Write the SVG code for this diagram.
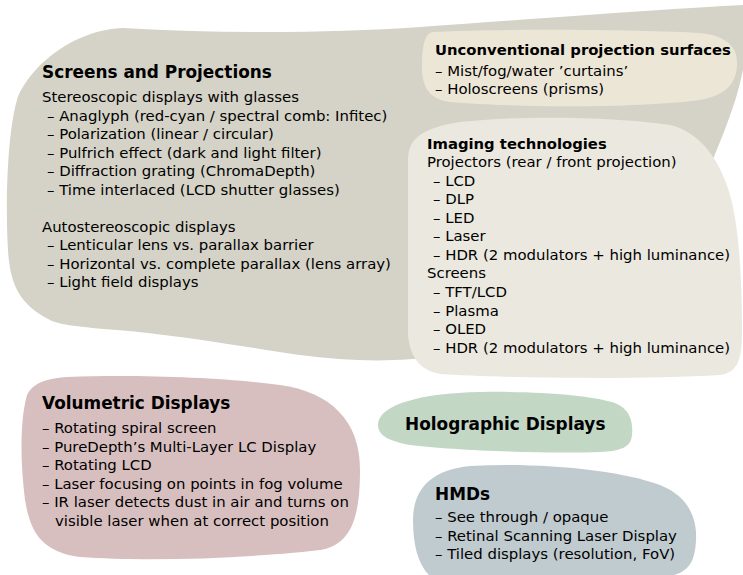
<svg xmlns="http://www.w3.org/2000/svg" width="743" height="575" viewBox="0 0 743 575">
<style>
text{font-family:"DejaVu Sans","Verdana",sans-serif;fill:#000}
.b{font-size:14.9px}
.t{font-size:16.9px;font-weight:bold}
.ts{font-size:14.8px;font-weight:bold}
</style>
<rect width="743" height="575" fill="#fff"/>
<g id="screens-projections">
<path fill="#d5d3c7" d="M123 28 C230 34 330 33 420 27 C560 17 680 8 743 5 L743 70 C735 110 720 140 705 180 L690 340 L440 356 C400 362 350 362 300 355 C250 348 180 335 117 330 C80 327 60 325 50 320 C20 305 10 285 8 250 C5 200 8 130 17 100 C27 70 70 30 123 28 Z"/>
<text class="t" x="42" y="78">Screens and Projections</text>
<text class="b" x="42" y="102">Stereoscopic displays with glasses</text>
<text class="b" x="47" y="120.5">– Anaglyph (red-cyan / spectral comb: Infitec)</text>
<text class="b" x="47" y="139">– Polarization (linear / circular)</text>
<text class="b" x="47" y="157.5">– Pulfrich effect (dark and light filter)</text>
<text class="b" x="47" y="176">– Diffraction grating (ChromaDepth)</text>
<text class="b" x="47" y="194.5">– Time interlaced (LCD shutter glasses)</text>
<text class="b" x="42" y="231.5">Autostereoscopic displays</text>
<text class="b" x="47" y="250">– Lenticular lens vs. parallax barrier</text>
<text class="b" x="47" y="268.5">– Horizontal vs. complete parallax (lens array)</text>
<text class="b" x="47" y="287">– Light field displays</text>
</g>
<g id="unconventional-surfaces">
<path fill="#ece6d6" d="M433 32 C520 28 650 30 700 33 C730 36 738 50 737 65 C736 85 725 95 700 100 C640 108 520 108 450 102 C428 99 422 85 422 68 C422 45 425 33 433 32 Z"/>
<text class="ts" x="435" y="55">Unconventional projection surfaces</text>
<text class="b" x="435" y="75.5">– Mist/fog/water ’curtains’</text>
<text class="b" x="435" y="94">– Holoscreens (prisms)</text>
</g>
<g id="imaging-technologies">
<path fill="#ebe8df" d="M408 160 C408 140 420 128 460 122 C520 115 620 117 670 125 C700 132 720 160 730 195 C740 230 742 290 742 330 C742 360 738 372 720 375 C640 380 500 378 440 374 C418 370 410 355 408 335 Z"/>
<text class="ts" x="427" y="148.5">Imaging technologies</text>
<text class="b" x="427" y="167">Projectors (rear / front projection)</text>
<text class="b" x="433" y="185.6">– LCD</text>
<text class="b" x="433" y="204.2">– DLP</text>
<text class="b" x="433" y="222.7">– LED</text>
<text class="b" x="433" y="241.3">– Laser</text>
<text class="b" x="433" y="259.8">– HDR (2 modulators + high luminance)</text>
<text class="b" x="427" y="278.4">Screens</text>
<text class="b" x="433" y="296.9">– TFT/LCD</text>
<text class="b" x="433" y="315.5">– Plasma</text>
<text class="b" x="433" y="334">– OLED</text>
<text class="b" x="433" y="352.6">– HDR (2 modulators + high luminance)</text>
</g>
<g id="volumetric-displays">
<path fill="#d8bfbf" d="M67 377 C140 374 230 378 280 385 C330 392 360 420 360 470 C360 520 350 545 320 550 C250 558 150 562 80 557 C40 552 30 530 25 500 C20 460 20 420 27 395 C33 382 50 378 67 377 Z"/>
<text class="t" x="42" y="409">Volumetric Displays</text>
<text class="b" x="42" y="433">– Rotating spiral screen</text>
<text class="b" x="42" y="451.5">– PureDepth’s Multi-Layer LC Display</text>
<text class="b" x="42" y="470">– Rotating LCD</text>
<text class="b" x="42" y="488.5">– Laser focusing on points in fog volume</text>
<text class="b" x="42" y="507">– IR laser detects dust in air and turns on</text>
<text class="b" x="55" y="525.5">visible laser when at correct position</text>
</g>
<g id="holographic-displays">
<path fill="#c3d7c5" d="M378 425 C378 405 420 393 480 392 C540 391 590 395 615 403 C632 410 633 425 632 435 C631 448 620 451 600 452 C540 454 450 450 410 445 C388 441 378 435 378 425 Z"/>
<text class="t" x="405" y="430">Holographic Displays</text>
</g>
<g id="hmds">
<path fill="#c0cbcf" d="M413 520 C413 490 430 470 470 466 C540 462 620 470 660 485 C690 497 697 520 696 540 C695 560 690 572 670 576 L430 576 C418 565 413 545 413 520 Z"/>
<text class="t" x="435" y="500">HMDs</text>
<text class="b" x="435" y="522">– See through / opaque</text>
<text class="b" x="435" y="540.5">– Retinal Scanning Laser Display</text>
<text class="b" x="435" y="559">– Tiled displays (resolution, FoV)</text>
</g>
<g id="connectors"/>
</svg>
